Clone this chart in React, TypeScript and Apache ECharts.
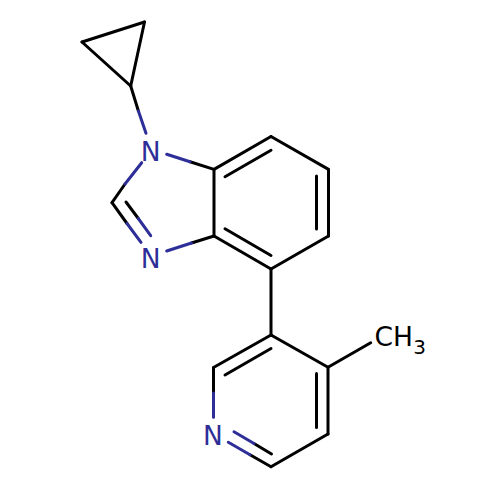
import React, { useEffect, useRef } from "react";
import * as echarts from "echarts";

// Bond segments as [x1, y1, x2, y2] in the picture's own units
const blackBonds = [
  [82, 42, 144.5, 22], [144.5, 22, 130.7, 86], [130.7, 86, 82, 42],
  [130.7, 86, 138.4, 111],
  [190, 161.7, 214, 169.4],
  [214, 169.4, 214, 236],
  [214, 236, 191.5, 243],
  [125, 184, 112, 202.7],
  [112, 202.7, 127, 223.5],
  [126, 202, 138.3, 218.5],
  [214, 169.4, 271, 136.5], [225, 176.8, 271, 150.3],
  [271, 136.5, 328.5, 169.4],
  [328.5, 169.4, 328.5, 236], [316.5, 176, 316.5, 229],
  [328.5, 236, 271, 269],
  [271, 269, 214, 236], [271, 255.5, 225, 228.8],
  [271, 269, 271, 335],
  [271, 335, 213.5, 367.5], [271, 348.5, 225, 375],
  [213.5, 367.5, 213.5, 393],
  [250, 454.7, 271, 466.7], [254, 443.5, 271.5, 454],
  [271, 466.7, 328, 434],
  [328, 434, 328, 367.3], [316.5, 373.5, 316.5, 427.5],
  [328, 367.3, 271, 335],
  [328, 367.3, 370.7, 342.7],
];
const blueBonds = [
  [138.4, 111, 146, 133.3],
  [166.7, 154.3, 190, 161.7],
  [141.7, 162.7, 125, 184],
  [127, 223.5, 141, 242.3],
  [138.3, 218.5, 150.7, 235.7],
  [191.5, 243, 166.7, 251],
  [213.5, 393, 213.5, 417.3],
  [228.3, 442.3, 250, 454.7],
  [234, 431.7, 254, 443.5],
];
// Atom labels: text, x, y (centre)
const blueAtoms = [
  ["N", 150.7, 151.2],
  ["N", 150.7, 258.2],
  ["N", 213, 435.2],
];
const methylLabel = [["CH", 393.7, 336.8]];
const methylSubscript = [["3", 419.5, 347]];

const BLACK = "#000000";
const BLUE = "#2e2e99";

function bondSeries(data: number[][], color: string) {
  return {
    type: "custom",
    coordinateSystem: "cartesian2d",
    clip: false,
    silent: true,
    encode: { x: [0, 2], y: [1, 3] },
    data,
    renderItem: (_p: any, api: any) => {
      const a = api.coord([api.value(0), api.value(1)]);
      const b = api.coord([api.value(2), api.value(3)]);
      return {
        type: "line",
        shape: { x1: a[0], y1: a[1], x2: b[0], y2: b[1] },
        style: { stroke: color, lineWidth: 3, lineCap: "round", fill: "none" },
      };
    },
  };
}

function labelSeries(data: any[][], color: string, size: number) {
  return {
    type: "custom",
    coordinateSystem: "cartesian2d",
    clip: false,
    silent: true,
    encode: { x: 1, y: 2 },
    data,
    renderItem: (_p: any, api: any) => {
      const idx = _p.dataIndex;
      const p = api.coord([data[idx][1], data[idx][2]]);
      return {
        type: "text",
        x: p[0],
        y: p[1],
        style: {
          text: data[idx][0],
          fill: color,
          fontFamily: "DejaVu Sans",
          fontSize: size,
          align: "center",
          verticalAlign: "middle",
        },
      };
    },
  };
}

export default function App() {
  const ref = useRef<HTMLDivElement>(null);
  useEffect(() => {
    const chart = echarts.init(ref.current!, undefined, { renderer: "svg" });
    chart.setOption({
      animation: false,
      backgroundColor: "#ffffff",
      grid: { left: 0, right: 0, top: 0, bottom: 0 },
      xAxis: { type: "value", min: 0, max: 500, show: false },
      yAxis: { type: "value", min: 0, max: 500, inverse: true, show: false },
      series: [
        bondSeries(blackBonds, BLACK),
        bondSeries(blueBonds, BLUE),
        labelSeries(blueAtoms, BLUE, 26.5),
        labelSeries(methylLabel, BLACK, 26.5),
        labelSeries(methylSubscript, BLACK, 20),
      ],
    });
    return () => chart.dispose();
  }, []);
  return (
    <div
      ref={ref}
      style={{ position: "absolute", left: 0, top: 0, width: 500, height: 500 }}
    />
  );
}
